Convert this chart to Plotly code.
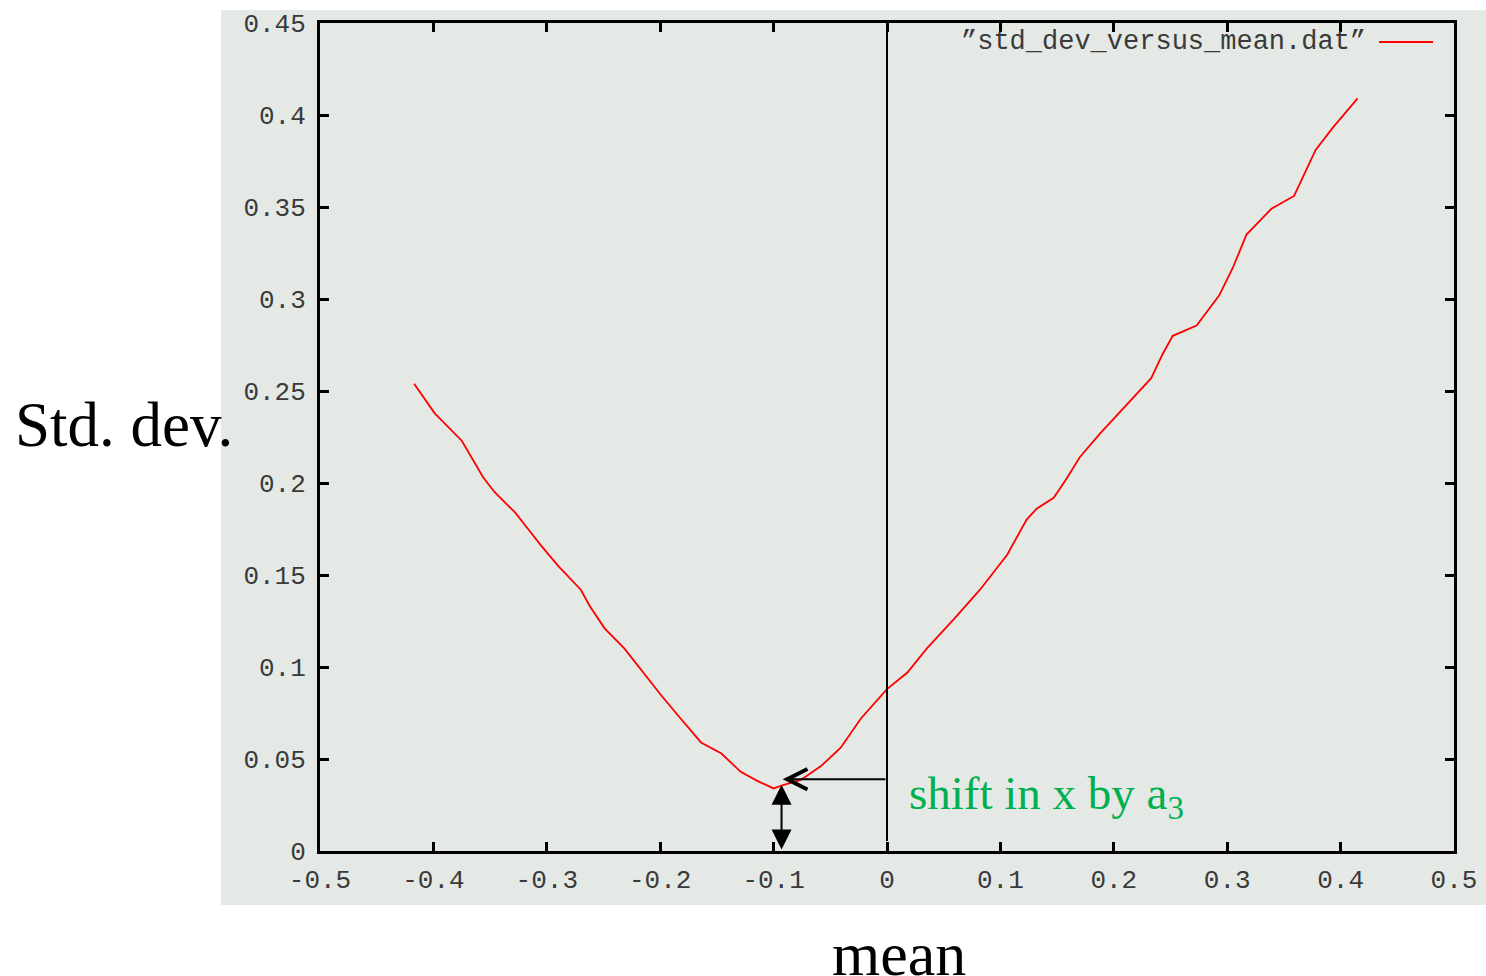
import plotly.graph_objects as go

# ---- data ----
mean_vals = [-0.417, -0.399, -0.375, -0.366, -0.356, -0.346, -0.328, -0.3165, -0.305, -0.290,
             -0.270, -0.262, -0.249, -0.2315, -0.211, -0.199, -0.182, -0.164, -0.146, -0.129,
             -0.114, -0.100, -0.091, -0.076, -0.0585, -0.041, -0.023, 0.000, 0.018, 0.035,
             0.059, 0.082, 0.106, 0.123, 0.132, 0.147, 0.158, 0.170, 0.188, 0.208,
             0.233, 0.243, 0.252, 0.273, 0.293, 0.305, 0.317, 0.339, 0.359, 0.378,
             0.393, 0.415]
std_vals = [0.254, 0.238, 0.223, 0.2135, 0.203, 0.195, 0.184, 0.175, 0.166, 0.155,
            0.142, 0.133, 0.121, 0.110, 0.094, 0.0845, 0.072, 0.059, 0.053, 0.043,
            0.038, 0.034, 0.036, 0.0386, 0.046, 0.056, 0.072, 0.088, 0.097, 0.110,
            0.126, 0.142, 0.161, 0.180, 0.186, 0.192, 0.202, 0.214, 0.227, 0.2405,
            0.257, 0.270, 0.280, 0.2856, 0.302, 0.317, 0.335, 0.349, 0.356, 0.381,
            0.393, 0.409]

x_tickvals = [-0.5, -0.4, -0.3, -0.2, -0.1, 0, 0.1, 0.2, 0.3, 0.4, 0.5]
x_ticktext = ["-0.5", "-0.4", "-0.3", "-0.2", "-0.1", "0", "0.1", "0.2", "0.3", "0.4", "0.5"]
y_tickvals = [0, 0.05, 0.1, 0.15, 0.2, 0.25, 0.3, 0.35, 0.4, 0.45]
y_ticktext = ["0", "0.05", "0.1", "0.15", "0.2", "0.25", "0.3", "0.35", "0.4", "0.45"]

series_name = "\u201dstd_dev_versus_mean.dat\u201d"

# annotation anchors (data units)
shift_x = -0.092      # arrow tip of the shift annotation
shift_y = 0.039
min_x = -0.093        # vertical double arrow position
min_y = 0.036

BG = "#e5e9e5"
TICKFONT = dict(family="Liberation Mono", size=26, color="#3a3a3a")

fig = go.Figure()
fig.add_trace(go.Scatter(x=mean_vals, y=std_vals, mode="lines",
                         line=dict(color="#ff0000", width=1.8),
                         name=series_name, showlegend=False))

axis_common = dict(showline=True, linecolor="black", linewidth=3, mirror="allticks",
                   ticks="inside", ticklen=9, tickwidth=3, tickcolor="black",
                   showgrid=False, zeroline=False, tickfont=TICKFONT, automargin=False)

fig.update_xaxes(range=[-0.5, 0.5], tickvals=x_tickvals, ticktext=x_ticktext,
                 ticklabelstandoff=3, **axis_common)
fig.update_yaxes(range=[0, 0.45], tickvals=y_tickvals, ticktext=y_ticktext,
                 ticklabelstandoff=6, **axis_common)

shapes = [
    # grey panel behind the plot
    dict(type="rect", xref="paper", yref="paper", x0=-0.0873, x1=1.03, y0=-0.0652, y1=1.0157,
         fillcolor=BG, line=dict(width=0), layer="below"),
    # vertical line at mean = 0
    dict(type="line", xref="x", yref="y", x0=0, x1=0, y0=0.0055, y1=0.45,
         line=dict(color="black", width=2)),
    # legend sample line
    dict(type="line", xref="paper", yref="paper", x0=0.9339, x1=0.9815, y0=0.977, y1=0.977,
         line=dict(color="#ff0000", width=2)),
]

annotations = [
    dict(text=series_name, xref="paper", yref="paper", x=0.9242, y=0.977,
         xanchor="right", yanchor="middle", showarrow=False,
         font=dict(family="Liberation Mono", size=27, color="#3a3a3a")),
    dict(text="Std. dev.", xref="paper", yref="paper", x=-0.1728, y=0.5145,
         xanchor="center", yanchor="middle", showarrow=False,
         font=dict(family="Liberation Serif", size=63, color="black")),
    dict(text="mean", xref="paper", yref="paper", x=0.5106, y=-0.1244,
         xanchor="center", yanchor="middle", showarrow=False,
         font=dict(family="Liberation Serif", size=62, color="black")),
    dict(text="shift in x by a<sub>3</sub>", xref="paper", yref="paper", x=0.5176, y=0.0658,
         xanchor="left", yanchor="middle", showarrow=False,
         font=dict(family="Liberation Serif", size=47, color="#00b050")),
    # horizontal open arrow from x=0 to the minimum
    dict(text="", x=shift_x, y=shift_y, xref="x", yref="y", ax=0, ay=shift_y,
         axref="x", ayref="y", showarrow=True, arrowhead=5, arrowsize=2,
         arrowwidth=2, arrowcolor="black", standoff=0),
    # vertical double arrow
    dict(text="", x=min_x, y=min_y, xref="x", yref="y", ax=min_x, ay=0,
         axref="x", ayref="y", showarrow=True, arrowhead=2, arrowsize=2,
         startarrowhead=2, startarrowsize=2, arrowside="end+start",
         arrowwidth=2, arrowcolor="black", standoff=0, startstandoff=0),
]

fig.update_layout(width=1486, height=976, autosize=False,
                  margin=dict(l=320, r=32, t=23, b=125),
                  paper_bgcolor="white", plot_bgcolor=BG,
                  shapes=shapes, annotations=annotations, showlegend=False)

fig.write_html("out.html")
